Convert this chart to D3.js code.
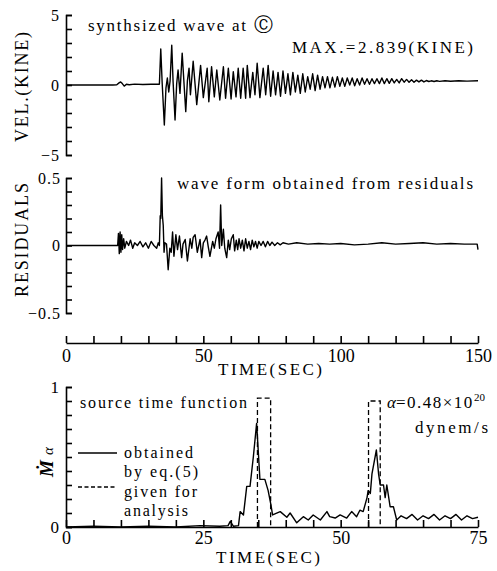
<!DOCTYPE html>
<html>
<head>
<meta charset="utf-8">
<script src="https://cdn.jsdelivr.net/npm/d3@7"></script>
<style>
  html, body { margin: 0; padding: 0; background: #fff; }
  svg { display: block; }
</style>
</head>
<body>
<svg id="chart" width="497" height="571"></svg>
<script>
// ---------------- data ----------------
// Panel 1: synthesized velocity wave (KINE) vs time (s)
const velTime = [0, 17, 18.5, 19.3, 19.9, 20.5, 21.2, 22, 23, 25, 28, 31, 34.0,
  34.5, 35.0, 35.8, 36.4, 36.9, 37.4, 37.9, 38.5, 39.0, 39.7, 40.3, 40.8, 41.5, 42.3, 43.0, 43.6, 44.2,
  44.8, 45.3, 46.3, 47.6, 49.0, 50.0, 51.4, 52.0, 53.0, 54.0, 54.9, 56.0, 57.3, 58.1, 59.1, 60.1,
  60.9, 61.9, 62.7, 63.6, 64.5, 65.4, 66.0, 67.0, 68.0, 68.8, 69.6, 70.6, 71.8, 72.7, 73.6,
  74.5, 75.4, 76.3, 77.2, 78.1, 79.0, 79.9, 80.8, 81.7, 82.6, 83.5, 84.4, 85.3, 86.2, 87.1, 88.0,
  88.9, 89.8, 90.7, 91.6, 92.5, 93.4, 94.3, 95.2, 96.1, 97.0, 97.9, 98.8, 99.7, 100.6, 101.5, 102.4,
  103.3, 104.2, 105.1, 106.0, 106.9, 107.8, 108.7, 109.6, 110.5, 111.4, 112.3, 113.2, 114.1, 115.0,
  115.9, 116.8, 117.7, 118.6, 119.5, 120.4, 121.3, 122.2, 123.1, 124.0, 124.9, 125.8, 126.7, 127.6,
  128.5, 129.4, 130.3, 131.2, 132.1, 133, 134, 135, 136, 138, 140, 143, 146, 150];
const velValue = [0, 0, 0.02, 0.15, 0.22, 0.1, -0.08, 0.05, 0.02, 0.06, 0.04, 0.05, 0.05,
  2.57, 0.2, -2.86, -0.2, 0.5, -0.5, 0.3, 2.84, 0.2, -2.5, 0.1, 1.07, -0.6, 2.28, 0.0, -1.9, 0.3,
  1.2, -0.7, 1.7, -1.4, 1.4, -0.9, 1.2, -1.2, 1.3, -0.85, 1.07, -1.07, 1.3, -0.95, 1.2, -1.0,
  0.95, -0.85, 1.2, -0.95, 1.2, -0.95, 1.4, -0.9, 0.9, -0.7, 1.55, -0.9, 1.2, -0.7, 1.4,
  -0.8, 1.0, -0.7, 0.9, -0.8, 1.0, -0.6, 0.8, -0.7, 0.9, -0.5, 0.7, -0.6, 0.8, -0.5, 0.6,
  -0.3, 0.8, -0.4, 0.7, -0.3, 0.6, -0.2, 0.6, -0.2, 0.55, -0.15, 0.6, -0.1, 0.5, -0.1, 0.5,
  0.0, 0.5, -0.05, 0.45, 0.0, 0.5, 0.05, 0.45, 0.05, 0.45, 0.1, 0.45, 0.1, 0.5,
  0.1, 0.45, 0.12, 0.45, 0.15, 0.4, 0.15, 0.45, 0.2, 0.4, 0.2, 0.38, 0.2, 0.35,
  0.22, 0.35, 0.22, 0.32, 0.25, 0.3, 0.25, 0.3, 0.26, 0.3, 0.27, 0.3, 0.28, 0.3];

// Panel 2: wave form obtained from residuals
const resTime = [0, 18.8, 19.1, 19.4, 19.7, 20.0, 20.3, 20.6, 21.0, 21.4, 22, 22.8, 23.5, 24.3, 25, 26,
  27, 28, 29, 30, 31, 32, 33, 33.6, 34.0, 34.3, 34.5, 34.8, 35.1, 35.4, 35.7, 36.0, 36.6, 37.2,
  37.8, 38.3, 38.8, 39.3, 40.0, 40.6, 41.3, 42.1, 42.6, 43.4, 44.2, 45.2, 45.8, 46.3, 47.0, 47.8,
  48.8, 49.4, 50.0, 50.6, 51.2, 51.8, 52.4, 53.4, 54.0, 54.6, 55.4, 55.9, 56.3, 56.7, 57.3, 57.8,
  58.5, 59.1, 59.6, 60.2, 60.9, 61.4, 62, 62.5, 63, 63.6, 64.2, 64.8, 65.4, 66, 66.6, 67.2, 67.8,
  68.4, 69, 69.6, 70.2, 71, 71.8, 72.6, 73.4, 74.2, 75, 76, 77, 78, 79, 81, 84, 88, 92, 96, 100,
  105, 110, 115, 120, 125, 130, 135, 140, 145, 149.7, 150];
const resValue = [0, 0, 0.09, -0.06, 0.1, -0.05, 0.08, -0.03, 0.05, -0.02, 0.03, 0.0, 0.04, -0.02, 0.02, 0.0,
  0.03, -0.01, 0.02, -0.02, 0.03, 0.0, -0.02, 0.02, 0.0, 0.22, 0.2, 0.5, 0.22, 0.15, -0.05, 0.02, 0.01, -0.18,
  -0.02, -0.05, 0.1, -0.08, 0.08, -0.03, 0.07, -0.09, 0.01, 0.045, -0.115, 0.05, -0.02, 0.06, 0.08, -0.05,
  0.045, -0.09, 0.02, 0.04, 0.07, -0.01, -0.08, 0.03, -0.02, 0.05, 0.1, -0.02, 0.3, 0.0, 0.12, -0.02,
  -0.09, 0.04, -0.03, 0.05, 0.08, -0.04, 0.04, -0.03, 0.05, -0.02, 0.04, -0.04, 0.05, -0.02, 0.03, -0.03, 0.04,
  -0.01, 0.03, -0.02, 0.03, 0.0, 0.03, -0.01, 0.03, 0.0, 0.025, 0.0, 0.02, 0.005, 0.02, 0.01, 0.02, 0.01, 0.015, 0.01, 0.015,
  0.005, 0.01, 0.02, 0.01, 0.015, 0.02, 0.01, 0.015, 0.01, 0.01, -0.03];

// Panel 3: source time function, obtained by eq.(5) (solid)
const srcTime = [0, 5, 10, 15, 20, 24.4, 28, 29.5, 29.9, 30.5, 31.4, 31.7, 32.3, 32.9, 33.5, 34.1, 34.7,
  35.3, 36.2, 36.8, 37.3, 37.6, 39.0, 40.2, 40.8, 42.0, 43.2, 44.1, 45.0, 46.3, 47.5, 48.0, 49.0,
  49.9, 51.1, 52.0, 52.9, 53.5, 54.1, 54.8, 55.0, 55.4, 55.7, 56.5, 56.9, 57.2, 57.8, 58.1, 58.4,
  59.0, 59.6, 60.2, 61.0, 62.0, 63.0, 64.0, 65.0, 66.0, 67.0, 68.0, 69.0, 70.0, 71.0, 72.0, 73.0, 74.0, 75.0];
const srcValue = [0.0, 0.005, 0.0, 0.005, 0.0, 0.01, 0.005, 0.01, 0.04, 0.005, 0.01, 0.11, 0.085, 0.29, 0.29, 0.5, 0.74,
  0.34, 0.34, 0.26, 0.16, 0.086, 0.11, 0.07, 0.1, 0.03, 0.074, 0.05, 0.086, 0.05, 0.11, 0.074, 0.064,
  0.086, 0.064, 0.11, 0.074, 0.12, 0.11, 0.21, 0.26, 0.24, 0.38, 0.55, 0.38, 0.3, 0.3, 0.21, 0.3,
  0.145, 0.145, 0.05, 0.08, 0.06, 0.09, 0.05, 0.08, 0.06, 0.09, 0.05, 0.08, 0.06, 0.09, 0.05, 0.08, 0.06, 0.07];

// given for analysis (dashed boxcars)
const givenStart = [34.85, 55.07];
const givenEnd = [37.25, 57.2];
const givenHeight = [0.92, 0.9];

// tick values and labels
const velTicks = [-5, -4, -3, -2, -1, 0, 1, 2, 3, 4, 5];
const resTicks = [-0.5, -0.4, -0.3, -0.2, -0.1, 0, 0.1, 0.2, 0.3, 0.4, 0.5];
const srcTicks = [0, 0.1, 0.2, 0.3, 0.4, 0.5, 0.6, 0.7, 0.8, 0.9, 1];
const timeTicks1 = [0, 10, 20, 30, 40, 50, 60, 70, 80, 90, 100, 110, 120, 130, 140, 150];
const timeTicks2 = [0, 5, 10, 15, 20, 25, 30, 35, 40, 45, 50, 55, 60, 65, 70, 75];
const velLabels = [5, 0, -5];
const resLabels = [0.5, 0, -0.5];
const timeLabels1 = [0, 50, 100, 150];
const timeLabels2 = [0, 25, 50, 75];
const srcLabels = [0, 1];

// ---------------- drawing ----------------
const svg = d3.select("#chart");
const ink = "#000";
const serif = "Liberation Serif";

const x1 = d3.scaleLinear().domain([0, 150]).range([66, 478]);
const yVel = d3.scaleLinear().domain([-5, 5]).range([155, 15]);
const yRes = d3.scaleLinear().domain([-0.5, 0.5]).range([313, 178]);
const x2 = d3.scaleLinear().domain([0, 75]).range([66, 478]);
const ySrc = d3.scaleLinear().domain([0, 1]).range([527, 387]);

function fmt(v) { return (v < 0 ? "\u2212" : "") + Math.abs(v); }

// Y axes: d3.axisRight gives the bracket spine and inward ticks; d3.axisLeft gives labels
function yAxis(scale, ticks, labels, fs, pad) {
  const tickAx = d3.axisRight(scale).tickValues(ticks).tickSizeInner(6).tickSizeOuter(6)
    .tickFormat(() => "");
  const gt = svg.append("g").attr("class", "yticks").attr("transform", "translate(66,0)").call(tickAx);
  gt.attr("color", ink);
  gt.selectAll("path").attr("stroke-width", 1.6);
  gt.selectAll("line").attr("stroke-width", 1.6);
  const labAx = d3.axisLeft(scale).tickValues(labels).tickSize(0).tickPadding(pad)
    .tickFormat(d => fmt(d));
  const gl = svg.append("g").attr("transform", "translate(66,0)").call(labAx);
  gl.select("path.domain").remove();
  gl.selectAll("text").attr("font-size", fs).attr("fill", ink).attr("font-family", serif)
    .attr("letter-spacing", 1);
}
yAxis(yVel, velTicks, velLabels, 16, 6);
yAxis(yRes, resTicks, resLabels, 16, 5);
yAxis(ySrc, srcTicks, srcLabels, 17, 6);

// X axes: d3.axisTop gives spine with upward ticks; d3.axisBottom gives labels
function xAxis(scale, y, ticks, labels, fs, pad) {
  const tickAx = d3.axisTop(scale).tickValues(ticks).tickSizeInner(7).tickSizeOuter(0)
    .tickFormat(() => "");
  const gt = svg.append("g").attr("transform", `translate(0,${y})`).call(tickAx);
  gt.attr("color", ink);
  gt.selectAll("path").attr("stroke-width", 1.6);
  gt.selectAll("line").attr("stroke-width", 1.6);
  const labAx = d3.axisBottom(scale).tickValues(labels).tickSize(0).tickPadding(pad)
    .tickFormat(d => String(d));
  const gl = svg.append("g").attr("transform", `translate(0,${y})`).call(labAx);
  gl.select("path.domain").remove();
  gl.selectAll("text").attr("font-size", fs).attr("fill", ink).attr("font-family", serif);
}
xAxis(x1, 343, timeTicks1, timeLabels1, 18, 6);
xAxis(x2, 527, timeTicks2, timeLabels2, 18, 4);

// lines
const lineVel = d3.line().x((d, i) => x1(velTime[i])).y((d, i) => yVel(velValue[i]));
svg.append("path").attr("d", lineVel(velTime)).attr("fill", "none")
  .attr("stroke", ink).attr("stroke-width", 1.4).attr("stroke-linejoin", "round");

const lineRes = d3.line().x((d, i) => x1(resTime[i])).y((d, i) => yRes(resValue[i]));
svg.append("path").attr("d", lineRes(resTime)).attr("fill", "none")
  .attr("stroke", ink).attr("stroke-width", 1.4).attr("stroke-linejoin", "round");

const lineSrc = d3.line().x((d, i) => x2(srcTime[i])).y((d, i) => ySrc(srcValue[i]));
svg.append("path").attr("d", lineSrc(srcTime)).attr("fill", "none")
  .attr("stroke", ink).attr("stroke-width", 1.4).attr("stroke-linejoin", "round");

const boxLine = d3.line().x(d => x2(d[0])).y(d => ySrc(d[1]));
givenStart.forEach((s, i) => {
  const pts = [[s, 0], [s, givenHeight[i]], [givenEnd[i], givenHeight[i]], [givenEnd[i], 0]];
  svg.append("path").attr("d", boxLine(pts)).attr("fill", "none")
    .attr("stroke", ink).attr("stroke-width", 1.3).attr("stroke-dasharray", "5,3");
});

// ---------------- texts ----------------
function txt(x, y, s, fs, opts = {}) {
  const t = svg.append("text").attr("x", x).attr("y", y).attr("font-size", fs)
    .attr("font-family", serif).attr("fill", ink).text(s);
  if (opts.len) t.attr("textLength", opts.len).attr("lengthAdjust", "spacing");
  if (opts.anchor) t.attr("text-anchor", opts.anchor);
  if (opts.rot) t.attr("transform", `rotate(-90,${x},${y})`);
  if (opts.italic) t.attr("font-style", "italic");
  return t;
}
txt(88, 31, "synthsized wave at", 17, { len: 158 });
svg.append("text").attr("x", 254).attr("y", 31).attr("font-size", 19)
  .attr("font-family", "DejaVu Sans").attr("fill", ink).text("\u24B8");
txt(292, 53, "MAX.=2.839(KINE)", 17, { len: 181 });
txt(177, 189, "wave form obtained from residuals", 17, { len: 296 });
txt(28, 87, "VEL.(KINE)", 18, { len: 110, anchor: "middle", rot: true });
txt(28, 240, "RESIDUALS", 18, { len: 114, anchor: "middle", rot: true });
txt(218, 375, "TIME(SEC)", 17, { len: 104 });

txt(80, 408, "source time function", 16, { len: 167 });
svg.append("line").attr("x1", 78).attr("x2", 117).attr("y1", 453).attr("y2", 453)
  .attr("stroke", ink).attr("stroke-width", 1.3);
svg.append("line").attr("x1", 78).attr("x2", 117).attr("y1", 487).attr("y2", 487)
  .attr("stroke", ink).attr("stroke-width", 1.3).attr("stroke-dasharray", "4,2.5");
txt(124, 458, "obtained", 16, { len: 69 });
txt(124, 477, "by eq.(5)", 16, { len: 74 });
txt(124, 497, "given for", 16, { len: 73 });
txt(124, 516, "analysis", 16, { len: 64 });

const alpha = svg.append("text").attr("x", 387).attr("y", 408).attr("font-size", 17)
  .attr("font-family", serif).attr("fill", ink);
alpha.append("tspan").attr("font-style", "italic").text("\u03B1");
alpha.append("tspan").attr("letter-spacing", 1.5).text("=0.48\u00D710");
alpha.append("tspan").attr("font-size", 11).attr("dy", -7).text("20");
txt(415, 433, "dynem/s", 17, { len: 73 });

// M-dot alpha label
const ml = svg.append("text").attr("transform", "translate(53,462) rotate(-90)")
  .attr("text-anchor", "middle").attr("font-size", 19).attr("font-family", serif).attr("fill", ink);
ml.append("tspan").attr("font-style", "italic").attr("font-weight", "bold").text("\u1E40");
ml.append("tspan").attr("dx", 5).attr("font-style", "italic").attr("font-size", 15).text("\u03B1");

txt(216, 563, "TIME(SEC)", 17, { len: 104 });
</script>
</body>
</html>
